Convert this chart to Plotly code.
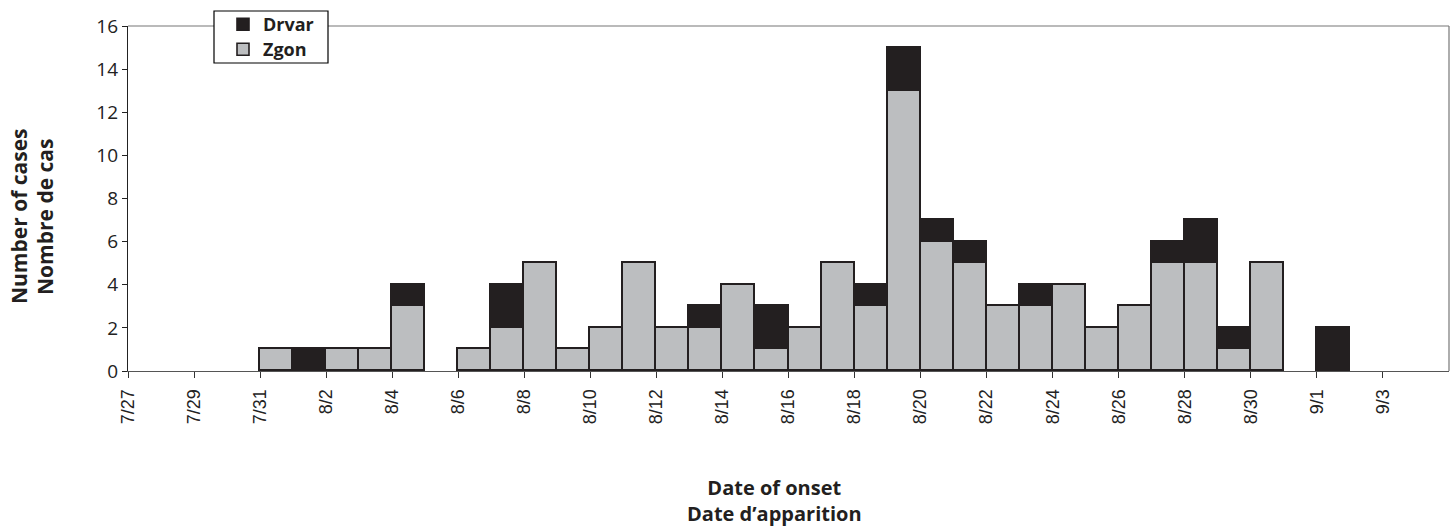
import plotly.graph_objects as go
from datetime import date, timedelta

# ---- data ----
start_day = date(2000, 7, 27)
n_days = 40  # 7/27 .. 9/4
days = [(start_day + timedelta(days=i)).isoformat() for i in range(n_days)]

zgon = [0, 0, 0, 0, 1, 0, 1, 1, 3, 0,
        1, 2, 5, 1, 2, 5, 2, 2, 4, 1,
        2, 5, 3, 13, 6, 5, 3, 3, 4, 2,
        3, 5, 5, 1, 5, 0, 0, 0, 0, 0]
drvar = [0, 0, 0, 0, 0, 1, 0, 0, 1, 0,
         0, 2, 0, 0, 0, 0, 0, 1, 0, 2,
         0, 0, 1, 2, 1, 1, 0, 1, 0, 0,
         0, 1, 2, 1, 0, 0, 2, 0, 0, 0]

tick_days = days[0:40:2]
tick_labels = [f"{d.month}/{d.day}" for d in (date.fromisoformat(s) for s in tick_days)]

y_title = ["Number of cases", "Nombre de cas"]
x_title = ["Date of onset", "Date d\u2019apparition"]

GRAY = "#bcbec0"
BLACK = "#231f20"
TITLE_FONT = "Open Sans"
TICK_FONT = "Liberation Sans"

W, H = 1454, 529
L, R, T, B = 128, 5, 26, 158
PW, PH = W - L - R, H - T - B

def px_x(p):
    return (p - L) / PW

def px_y(p):
    return (H - B - p) / PH

def mask(vals):
    return [v if v > 0 else None for v in vals]

fig = go.Figure()
fig.add_trace(go.Bar(
    name="Zgon", x=days, y=mask(zgon), legend="legend2",
    xperiod=86400000, xperiodalignment="middle",
    marker=dict(color=GRAY, line=dict(color=BLACK, width=1.6)),
))
fig.add_trace(go.Bar(
    name="Drvar", x=days, y=mask(drvar), legend="legend",
    xperiod=86400000, xperiodalignment="middle",
    marker=dict(color=BLACK, line=dict(color=BLACK, width=1.6)),
))

end_day = (start_day + timedelta(days=n_days)).isoformat()

leg_common = dict(
    xanchor="left", yanchor="middle",
    bgcolor="rgba(0,0,0,0)", borderwidth=0,
    font=dict(family=TITLE_FONT, size=18, color=BLACK, weight="bold"),
    itemwidth=30,
)

fig.update_layout(
    width=W, height=H,
    margin=dict(l=L, r=R, t=T, b=B, autoexpand=False),
    barmode="stack", bargap=0,
    plot_bgcolor="white", paper_bgcolor="white",
    showlegend=True,
    legend=dict(x=px_x(223), y=px_y(24.5), **leg_common),
    legend2=dict(x=px_x(223), y=px_y(49.5), **leg_common),
    xaxis=dict(
        type="date",
        range=[days[0], end_day],
        tickmode="array", tickvals=tick_days, ticktext=tick_labels,
        tickangle=-90,
        ticks="outside", ticklen=6, tickcolor="#333333", tickwidth=1,
        ticklabelstandoff=4,
        showline=True, linecolor="#555555", linewidth=1.2,
        showgrid=False, zeroline=False,
        tickfont=dict(family=TICK_FONT, size=18, color="#222222"),
    ),
    yaxis=dict(
        range=[0, 16], dtick=2,
        ticks="outside", ticklen=5, tickcolor="#222222",
        showline=True, linecolor="#222222", linewidth=1.2,
        showgrid=False, zeroline=False,
        tickfont=dict(family=TITLE_FONT, size=19, color="#222222"),
    ),
    shapes=[
        dict(type="line", xref="paper", yref="paper", x0=0, x1=1, y0=1, y1=1,
             line=dict(color="#777777", width=1.2), layer="below"),
        dict(type="line", xref="paper", yref="paper", x0=1, x1=1, y0=0, y1=1,
             line=dict(color="#777777", width=1.2), layer="below"),
        dict(type="rect", xref="paper", yref="paper",
             x0=px_x(214), x1=px_x(328), y0=px_y(63), y1=px_y(11),
             fillcolor="white", line=dict(color="black", width=1.2), layer="above"),
    ],
    annotations=[
        dict(text=f"<b>{y_title[0]}</b>", xref="paper", yref="paper",
             x=px_x(19), y=px_y(216), xanchor="center", yanchor="middle",
             textangle=-90, showarrow=False,
             font=dict(family=TITLE_FONT, size=21, color=BLACK)),
        dict(text=f"<b>{y_title[1]}</b>", xref="paper", yref="paper",
             x=px_x(45), y=px_y(217), xanchor="center", yanchor="middle",
             textangle=-90, showarrow=False,
             font=dict(family=TITLE_FONT, size=21, color=BLACK)),
        dict(text=f"<b>{x_title[0]}<br>{x_title[1]}</b>", xref="paper", yref="paper",
             x=px_x(774), y=px_y(501), xanchor="center", yanchor="middle",
             showarrow=False, font=dict(family=TITLE_FONT, size=20, color=BLACK)),
    ],
)

fig.write_html(
    "out.html",
    config={"displayModeBar": False},
    post_script="document.body.style.margin='0';document.body.style.overflow='hidden';",
)
